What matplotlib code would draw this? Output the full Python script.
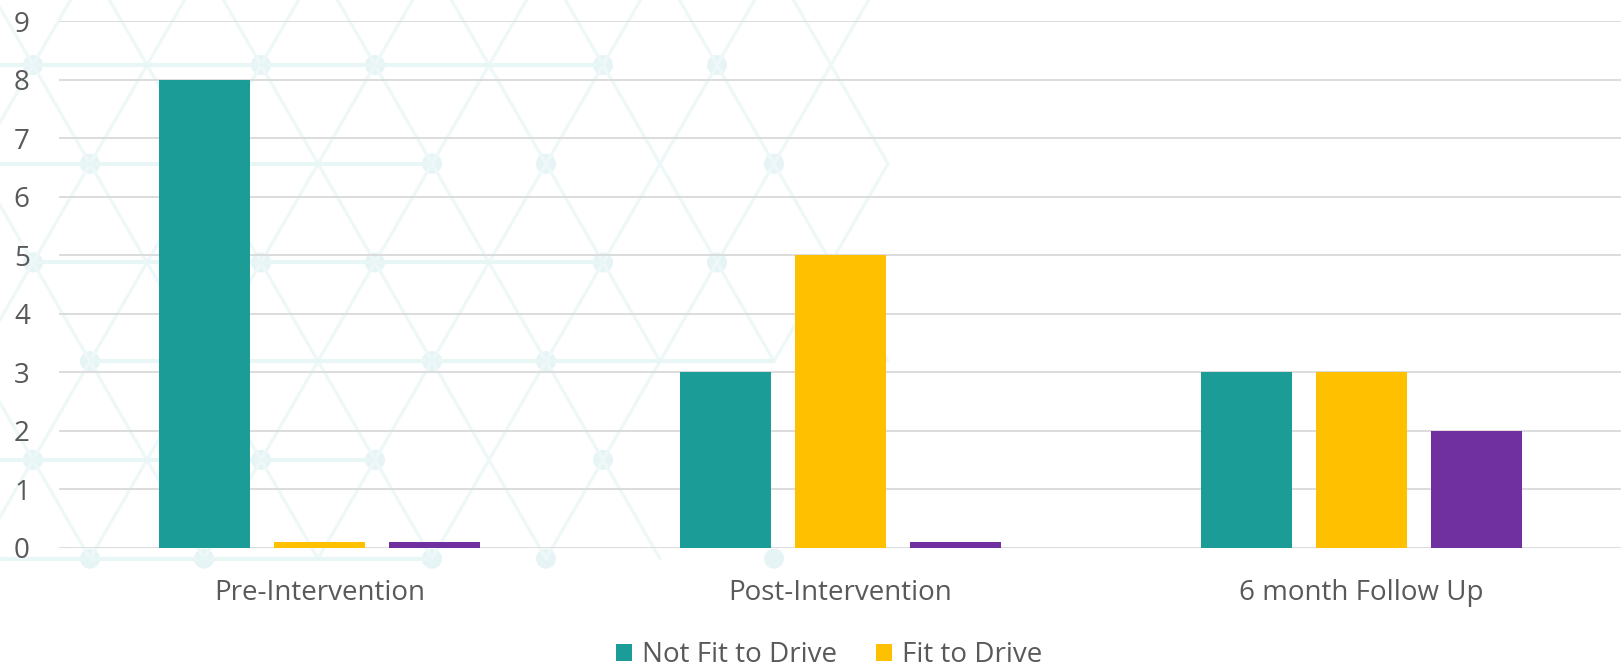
import numpy as np
import matplotlib
matplotlib.use("Agg")
import matplotlib.pyplot as plt
from matplotlib.patches import Patch, Circle
from matplotlib.collections import LineCollection

# ---- data ----
categories = ["Pre-Intervention", "Post-Intervention", "6 month Follow Up"]
not_fit = [8, 3, 3]
fit = [0.1, 5, 3]
other = [0.1, 0.1, 2]
series_labels = ["Not Fit to Drive", "Fit to Drive", None]
y_ticks = list(range(0, 10))

colors = ["#1B9C96", "#FFC000", "#7030A0"]
text_color = "#595959"
grid_color = "#D9D9D9"

W, H, DPI = 1621, 668, 100
plt.rcParams["font.family"] = ["Open Sans", "DejaVu Sans"]

fig = plt.figure(figsize=(W / DPI, H / DPI), dpi=DPI)
fig.patch.set_facecolor("white")

# ---- decorative triangular lattice in the background (pixel units) ----
bg = fig.add_axes([0, 0, 1, 1], zorder=0)
bg.set_xlim(0, W)
bg.set_ylim(H, 0)
bg.axis("off")

a = 114.0            # node spacing along a row
h = a * np.sqrt(3) / 2
x0, y0 = 33.0, 65.0

def node(i, j):
    return x0 + a * i + (a / 2) * (j % 2), y0 + h * j

diag = []
for j in range(-1, 5):
    for i in range(-1, 10):
        x, y = node(i, j)
        for dx in (-a / 2, a / 2):
            xe, ye = x + dx, y + h
            mx, my = (x + xe) / 2, (y + ye) / 2
            limit = 885 if my < 380 else 640
            if -60 < mx < limit:
                diag.append([(x, y), (xe, ye)])
bg.add_collection(LineCollection(diag, colors="#EFF8F8", linewidths=2.4,
                                 capstyle="round"))

row_spans = {0: (0, 603), 1: (0, 432), 2: (34, 604), 3: (89, 775),
             4: (0, 375), 5: (0, 432)}
horiz = [[(s, y0 + h * j), (e, y0 + h * j)] for j, (s, e) in row_spans.items()]
bg.add_collection(LineCollection(horiz, colors="#E9F6F6", linewidths=3.0))

row_dots = {0: [0, 2, 3, 5, 6], 1: [0, 3, 4, 6], 2: [0, 2, 3, 5, 6],
            3: [0, 3, 4], 4: [0, 2, 3, 5], 5: [0, 1, 3, 4, 6]}
for j, idx in row_dots.items():
    for i in idx:
        bg.add_patch(Circle(node(i, j), 10, facecolor="#E6F4F5",
                            edgecolor="none"))

# ---- main bar chart ----
left_px, right_px = 59, 1622
top_px, bottom_px = 21, 548
ax = fig.add_axes([left_px / W, (H - bottom_px) / H,
                   (right_px - left_px) / W, (bottom_px - top_px) / H],
                  zorder=1)
ax.set_facecolor("none")

x = np.arange(len(categories))
width = 0.175
step = 0.221
for k, (vals, lab) in enumerate(zip([not_fit, fit, other], series_labels)):
    ax.bar(x + (k - 1) * step, vals, width=width, color=colors[k],
           zorder=3, label=lab)

ax.set_xlim(-0.5, len(categories) - 0.5)
ax.set_ylim(0, 9)
ax.set_yticks(y_ticks)
ax.set_yticklabels([str(t) for t in y_ticks])
ax.set_xticks(x)
ax.set_xticklabels(categories)
ax.yaxis.grid(True, color=grid_color, linewidth=1.3, zorder=0)
ax.set_axisbelow(True)
for s in ax.spines.values():
    s.set_visible(False)
ax.tick_params(axis="y", length=0, pad=21, labelsize=20, labelcolor=text_color)
ax.tick_params(axis="x", length=0, pad=22, labelsize=20, labelcolor=text_color)

# ---- legend (only the first two series are listed) ----
handles = [Patch(facecolor=colors[0], edgecolor="none", label=series_labels[0]),
           Patch(facecolor=colors[1], edgecolor="none", label=series_labels[1])]
fig.legend(handles=handles, loc="center", bbox_to_anchor=(829 / W, 13 / H),
           ncol=2, frameon=False, fontsize=20, labelcolor=text_color,
           handlelength=0.58, handleheight=0.58, handletextpad=0.35,
           columnspacing=1.4, borderpad=0)

fig.savefig("out.png", dpi=DPI, facecolor="white")
